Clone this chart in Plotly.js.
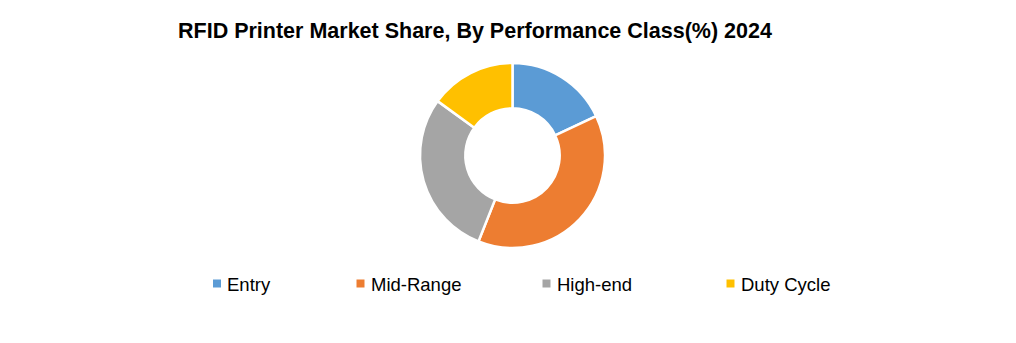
<!DOCTYPE html>
<html>
<head>
<meta charset="utf-8">
<script src="https://cdn.plot.ly/plotly-3.0.1.min.js"></script>
<style>html,body{margin:0;padding:0;background:#fff;}#chart{width:1016px;height:343px;}</style>
</head>
<body>
<div id="chart"></div>
<script>
const categories = ["Entry", "Mid-Range", "High-end", "Duty Cycle"];
const shares = [18, 38, 29, 15];
const colors = ["#5B9BD5", "#ED7D31", "#A5A5A5", "#FFC000"];
const chartTitle = "RFID Printer Market Share, By Performance Class(%) 2024";

const W = 1016, H = 343;
const cx = 512.5, cy = 155.5, R = 92.5;
// legend layout (pixel positions of the text starts)
const legendTextX = [228, 371.5, 557.5, 741.5];
const legendY = 284;
const sq = 8;

const trace = {
  type: "pie",
  labels: categories,
  values: shares,
  sort: false,
  direction: "clockwise",
  rotation: 0,
  hole: 0.51,
  textinfo: "none",
  hoverinfo: "label+percent",
  showlegend: false,
  marker: { colors: colors, line: { color: "#ffffff", width: 2.5 } },
  domain: { x: [(cx - R) / W, (cx + R) / W], y: [(H - cy - R) / H, (H - cy + R) / H] }
};

const annotations = categories.map((c, i) => ({
  text: c,
  xref: "paper", yref: "paper",
  x: (legendTextX[i] - 2) / W, xanchor: "left",
  y: 1 - legendY / H, yanchor: "middle",
  borderpad: 0,
  showarrow: false,
  font: { family: "Liberation Sans, Arial, sans-serif", size: 18.5, color: "#000" }
}));

const shapes = categories.map((c, i) => ({
  type: "rect",
  xref: "paper", yref: "paper",
  x0: (legendTextX[i] - 15) / W, x1: (legendTextX[i] - 15 + sq) / W,
  y0: 1 - (legendY - 0.5 + sq / 2) / H, y1: 1 - (legendY - 0.5 - sq / 2) / H,
  fillcolor: colors[i],
  line: { width: 0 }
}));

const layout = {
  width: W, height: H,
  margin: { l: 0, r: 0, t: 0, b: 0 },
  paper_bgcolor: "#ffffff",
  font: { family: "Liberation Sans, Arial, sans-serif", color: "#000" },
  title: {
    text: "<b>" + chartTitle + "</b>",
    font: { family: "Liberation Sans, Arial, sans-serif", size: 21.5, color: "#000" },
    x: 178 / W, xanchor: "left", xref: "paper",
    y: 1 - 30 / H, yanchor: "middle", yref: "container"
  },
  showlegend: false,
  annotations: annotations,
  shapes: shapes
};

Plotly.newPlot("chart", [trace], layout, { displayModeBar: false, staticPlot: true });
</script>
</body>
</html>
